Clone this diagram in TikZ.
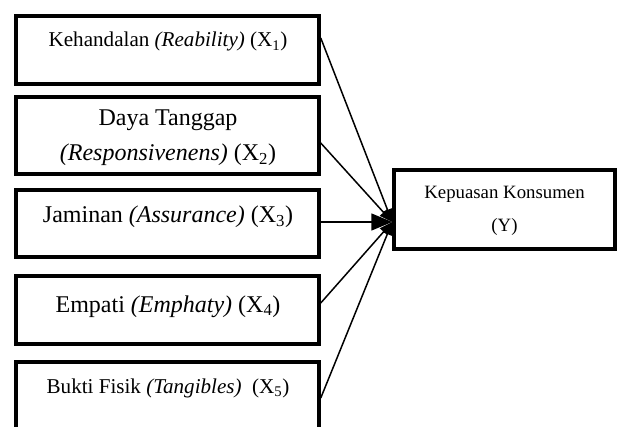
\documentclass[tikz,border=0pt]{standalone}
\usepackage{fontspec}
\setmainfont{Liberation Serif}
\usetikzlibrary{arrows.meta,calc}
\begin{document}
\begin{tikzpicture}[x=1pt,y=-1pt,
  box/.style={draw, line width=3.5pt, inner sep=0pt, minimum width=303pt},
  ybox/.style={draw, line width=3.5pt, inner sep=0pt, minimum width=221pt, minimum height=79pt},
  txt/.style={anchor=base, inner sep=0pt},
  szA/.style={font=\fontsize{21.1}{25}\selectfont},
  szB/.style={font=\fontsize{24}{28}\selectfont},
  szC/.style={font=\fontsize{18.8}{22}\selectfont},
  conn/.style={line width=1.5pt, -{Triangle[length=13pt,width=10pt]}},
  mainconn/.style={line width=1.5pt, -{Triangle[length=21pt,width=17pt]}}]
\clip (0,0) rectangle (617,427);
\fill[white] (0,0) rectangle (617,427);
% boxes
\node[box, minimum height=68pt] (b1) at (167.5,50) {};
\node[box, minimum height=77pt] (b2) at (167.5,135.5) {};
\node[box, minimum height=67pt] (b3) at (167.5,223.5) {};
\node[box, minimum height=68pt] (b4) at (167.5,310) {};
\node[box, minimum height=88pt] (b5) at (167.5,406) {};
\node[ybox] (y) at (504.5,209.5) {};
% texts
\node[txt, szA] (t1) at (168,47) {Kehandalan \textit{(Reability)} (X\textsubscript{1})};
\node[txt, szB] (t2a) at (168,126) {Daya Tanggap};
\node[txt, szB] (t2b) at (168,161) {\textit{(Responsivenens)} (X\textsubscript{2})};
\node[txt, szB] (t3) at (168,223) {Jaminan \textit{(Assurance)} (X\textsubscript{3})};
\node[txt, szB] (t4) at (168,312) {Empati \textit{(Emphaty)} (X\textsubscript{4})};
\node[txt, szA] (t5) at (168,393) {Bukti Fisik \textit{(Tangibles)}\ \ (X\textsubscript{5})};
\node[txt, szC] (ty1) at (504.5,199) {Kepuasan Konsumen};
\node[txt, szC] (ty2) at (504.5,232) {(Y)};
% connectors
\coordinate (tip) at ($(y.west)+(0,12.5)$);
\draw[conn] ($(b1.east)+(0,-12)$) -- (tip);
\draw[conn] ($(b2.east)+(0,7.5)$) -- (tip);
\draw[conn] ($(b4.east)+(0,-7)$) -- (tip);
\draw[conn] ($(b5.east)+(0,-8)$) -- (tip);
\draw[mainconn] (b3.east |- tip) -- (tip);
\end{tikzpicture}
\end{document}
